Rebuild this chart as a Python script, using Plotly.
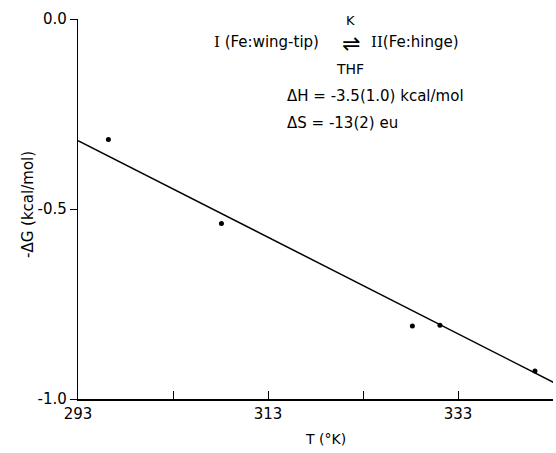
import plotly.graph_objects as go

# Data
T_K = [296.2, 308.1, 328.2, 331.1, 341.1]
neg_dG = [-0.317, -0.538, -0.808, -0.806, -0.926]
fit_T = [293.0, 343.5]
fit_negdG = [-0.32, -0.962]
x_tickvals = [293, 303, 313, 323, 333, 343]
x_ticktext = ["293", "", "313", "", "333", ""]
y_tickvals = [0.0, -0.5, -1.0]
y_ticktext = ["0.0", "-0.5", "-1.0"]

FONT = "DejaVu Sans, Liberation Sans, sans-serif"
SERIF = "DejaVu Serif"
W, H = 556, 453
L, R, T, B = 78, 3, 19, 54

fig = go.Figure()
fig.add_trace(go.Scatter(x=fit_T, y=fit_negdG, mode="lines",
                         line=dict(color="black", width=1.5), showlegend=False,
                         cliponaxis=True))
fig.add_trace(go.Scatter(x=T_K, y=neg_dG, mode="markers",
                         marker=dict(color="black", size=5), showlegend=False))

def px2paper(px, py):
    return (px - L) / (W - L - R), (H - B - py) / (H - T - B)

ann = []
def add(text, px, py, xanchor="left", size=15, angle=0):
    x, y = px2paper(px, py)
    ann.append(dict(text=text, x=x, y=y, xref="paper", yref="paper",
                    xanchor=xanchor, yanchor="middle", showarrow=False,
                    textangle=angle,
                    font=dict(family=FONT, size=size, color="black")))

roman1 = f"<span style='font-family:{SERIF}'>I</span>"
roman2 = f"<span style='font-family:{SERIF}'>II</span>"
add(f"{roman1} (Fe:wing-tip)", 212, 42, size=15)
add("⇌", 351, 44, xanchor="center", size=22)
add("K", 350, 20, xanchor="center", size=13)
add(f"{roman2}(Fe:hinge)", 369, 42, size=15)
add("THF", 350, 69, xanchor="center", size=14)
add("ΔH = -3.5(1.0) kcal/mol", 285, 96, size=15)
add("ΔS = -13(2) eu", 285, 123, size=15)
add("T (°K)", 325, 439, xanchor="center", size=14)
add("-ΔG (kcal/mol)", 28, 205, xanchor="center", size=15, angle=-90)

fig.update_layout(
    width=W, height=H,
    margin=dict(l=L, r=R, t=T, b=B, pad=0),
    paper_bgcolor="white", plot_bgcolor="white",
    font=dict(family=FONT, size=14, color="black"),
    annotations=ann,
    xaxis=dict(range=[293, 343], tickvals=x_tickvals, ticktext=x_ticktext,
               ticks="inside", ticklen=8, tickwidth=1.2, tickcolor="black",
               showline=True, linecolor="black", linewidth=1.5,
               showgrid=False, zeroline=False, mirror=False,
               tickfont=dict(family=FONT, size=15)),
    yaxis=dict(range=[-1.0, 0.0], tickvals=y_tickvals, ticktext=y_ticktext,
               ticks="outside", ticklen=7, tickwidth=1.2, tickcolor="black",
               showline=True, linecolor="black", linewidth=1.2,
               showgrid=False, zeroline=False,
               tickfont=dict(family=FONT, size=15)),
)
fig.write_html("out.html")
